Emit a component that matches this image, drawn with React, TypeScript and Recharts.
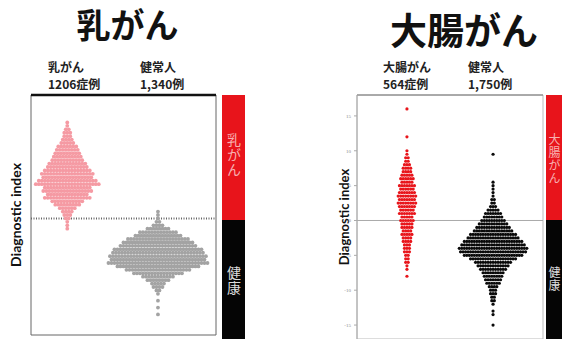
import React from 'react';
import { ScatterChart, Scatter, XAxis, YAxis, ReferenceLine, ReferenceArea } from 'recharts';

// swarm rows: [diagnostic index, number of dots in the row]
const breastCancerRows: [number, number][] = [
  [14.0, 1], [13.5, 1], [13.0, 2], [12.5, 3], [12.0, 3], [11.5, 4], [11.0, 5], [10.5, 7],
  [10.0, 8], [9.5, 9], [9.0, 10], [8.5, 11], [8.0, 13], [7.5, 14], [7.0, 16], [6.5, 18],
  [6.0, 17], [5.5, 20], [5.0, 22], [4.5, 16], [4.0, 17], [3.5, 14], [3.0, 16], [2.5, 11],
  [2.0, 9], [1.5, 6], [1.0, 4], [0.5, 3], [0.0, 2], [-0.5, 1], [-1.0, 1], [-1.5, 1],
];
const breastHealthyRows: [number, number][] = [
  [1.0, 1], [0.5, 1], [0.0, 1], [-0.5, 2], [-1.0, 4], [-1.5, 8], [-2.0, 13], [-2.5, 16],
  [-3.0, 21], [-3.5, 24], [-4.0, 26], [-4.5, 30], [-5.0, 31], [-5.5, 33], [-6.0, 32],
  [-6.5, 34], [-7.0, 28], [-7.5, 22], [-8.0, 17], [-8.5, 11], [-9.0, 8], [-9.5, 5],
  [-10.0, 4], [-10.5, 2], [-11.0, 1], [-12.0, 1], [-13.0, 1], [-14.0, 1],
];
const colonCancerRows: [number, number][] = [
  [16.0, 1], [12.0, 1], [10.0, 1], [9.5, 1], [9.0, 2], [8.5, 2], [8.0, 3], [7.5, 4],
  [7.0, 4], [6.5, 5], [6.0, 6], [5.5, 5], [5.0, 7], [4.5, 6], [4.0, 7], [3.5, 8],
  [3.0, 7], [2.5, 8], [2.0, 7], [1.5, 6], [1.0, 7], [0.5, 5], [0.0, 6], [-0.5, 5],
  [-1.0, 5], [-1.5, 4], [-2.0, 5], [-2.5, 4], [-3.0, 4], [-3.5, 3], [-4.0, 3], [-4.5, 3],
  [-5.0, 2], [-5.5, 2], [-6.0, 2], [-6.5, 1], [-7.0, 1], [-8.0, 1],
];
const colonHealthyRows: [number, number][] = [
  [9.5, 1], [5.5, 1], [5.0, 1], [4.5, 1], [4.0, 1], [3.5, 1], [3.0, 2], [2.5, 2],
  [2.0, 3], [1.5, 5], [1.0, 7], [0.5, 8], [0.0, 10], [-0.5, 12], [-1.0, 14], [-1.5, 16],
  [-2.0, 19], [-2.5, 21], [-3.0, 24], [-3.5, 26], [-4.0, 28], [-4.5, 27], [-5.0, 24],
  [-5.5, 19], [-6.0, 15], [-6.5, 13], [-7.0, 11], [-7.5, 9], [-8.0, 8], [-8.5, 7],
  [-9.0, 6], [-9.5, 4], [-10.0, 3], [-10.5, 3], [-11.0, 2], [-11.5, 2], [-12.0, 1],
  [-13.0, 1], [-13.5, 1], [-15.0, 1],
];

const colonTicks = [15, 10, 5, 0, -5, -10, -15];

const JP = "'Noto Sans CJK JP', sans-serif";

const toPoints = (rows: [number, number][], group: number) =>
  rows.map(([y, n]) => ({ x: group, y, n }));

// draws one row of the swarm centred on the group position
const swarm = (color: string, gap: number, r: number) => (props: any) => {
  const { cx, cy, payload } = props;
  const n = payload.n;
  const dots = [];
  for (let i = 0; i < n; i++) {
    dots.push(<circle key={i} cx={cx + (i - (n - 1) / 2) * gap} cy={cy} r={r} fill={color} />);
  }
  return <g>{dots}</g>;
};

const AxisTitle = ({ viewBox, x, size }: any) => {
  const cy = viewBox.y + viewBox.height / 2;
  return (
    <text x={x} y={cy} transform={`rotate(-90 ${x} ${cy})`} textAnchor="middle" dominantBaseline="central"
      fontFamily="Lato, sans-serif" fontWeight={700} fontSize={size} fill="#111">
      Diagnostic index
    </text>
  );
};

const SideBar = ({ left, width, top, label, size }: { left: number; width: number; top: string; label: string; size: number }) => (
  <>
    <div style={{ position: 'absolute', left, top: 95, width, height: 125, background: '#e8141b' }}>
      <div style={{ position: 'absolute', top: 38, left: 0, width, writingMode: 'vertical-rl', fontFamily: JP, fontSize: size, lineHeight: `${width}px`, letterSpacing: 1, color: '#f7b0b0' }}>{label}</div>
    </div>
    <div style={{ position: 'absolute', left, top: 220, width, height: 119, background: '#050505' }}>
      <div style={{ position: 'absolute', top: 46, left: 0, width, writingMode: 'vertical-rl', fontFamily: JP, fontSize: size, lineHeight: `${width}px`, letterSpacing: 1, color: '#dddddd' }}>{top}</div>
    </div>
  </>
);

const headStyle: React.CSSProperties = {
  position: 'absolute', fontFamily: JP, fontWeight: 700, fontSize: 12, lineHeight: '14px', color: '#222', whiteSpace: 'nowrap',
};

const Header = ({ left, lines }: { left: number; lines: string[] }) => (
  <>
    <div style={{ ...headStyle, left, top: 60 }}>{lines[0]}</div>
    <div style={{ ...headStyle, left, top: 77 }}>{lines[1]}</div>
  </>
);

export default function App() {
  return (
    <div style={{ position: 'absolute', left: 0, top: 0, width: 562, height: 339, overflow: 'hidden', background: '#fff' }}>
      <div style={{ position: 'absolute', left: 40, top: 6, width: 175, textAlign: 'center', fontFamily: JP, fontWeight: 700, fontSize: 34, lineHeight: '36px', color: '#111' }}>乳がん</div>
      <div style={{ position: 'absolute', left: 380, top: 9, width: 168, textAlign: 'center', fontFamily: JP, fontWeight: 700, fontSize: 37, lineHeight: '40px', color: '#111' }}>大腸がん</div>

      <Header left={48} lines={['乳がん', '1206症例']} />
      <Header left={140} lines={['健常人', '1,340例']} />
      <Header left={383} lines={['大腸がん', '564症例']} />
      <Header left={468} lines={['健常人', '1,750例']} />

      <div style={{ position: 'absolute', left: 0, top: 85 }}>
        <ScatterChart width={220} height={254} margin={{ top: 10, right: 4, bottom: 4, left: 0 }}>
          <XAxis type="number" dataKey="x" domain={[0.6, 2.64]} hide />
          <YAxis type="number" dataKey="y" domain={[-17, 18]} width={31} tick={false} axisLine={false} tickLine={false}
            label={<AxisTitle x={18} size={14} />} />
          <ReferenceArea x1={0.6} x2={2.64} y1={-17} y2={18} fill="none" stroke="#666" strokeWidth={1} />
          <ReferenceLine y={18} stroke="#111" strokeWidth={2.5} />
          <ReferenceLine y={0} stroke="#666" strokeWidth={2} strokeDasharray="1 1.5" />
          <Scatter data={toPoints(breastCancerRows, 1)} shape={swarm('#f59aa3', 3, 1.9)} isAnimationActive={false} />
          <Scatter data={toPoints(breastHealthyRows, 2)} shape={swarm('#a3a3a3', 3, 1.9)} isAnimationActive={false} />
        </ScatterChart>
      </div>
      <SideBar left={222} width={23} size={14} label="乳がん" top="健康" />

      <div style={{ position: 'absolute', left: 330, top: 85 }}>
        <ScatterChart width={232} height={254} margin={{ top: 10, right: 19, bottom: 0, left: 0 }}>
          <XAxis type="number" dataKey="x" domain={[0.42, 2.58]} hide />
          <YAxis type="number" dataKey="y" domain={[-17, 18]} width={27} ticks={colonTicks} interval={0}
            tick={{ fontSize: 5, fill: '#888' }} tickSize={3} tickMargin={3} stroke="#aaa"
            label={<AxisTitle x={4} size={13} />} />
          <ReferenceArea x1={0.42} x2={2.58} y1={-17} y2={18} fill="none" stroke="#bbb" strokeWidth={1} />
          <ReferenceLine y={18} stroke="#777" strokeWidth={1} />
          <ReferenceLine y={0} stroke="#aaa" strokeWidth={1} />
          <Scatter data={toPoints(colonCancerRows, 1)} shape={swarm('#e8151b', 2.5, 1.6)} isAnimationActive={false} />
          <Scatter data={toPoints(colonHealthyRows, 2)} shape={swarm('#0a0a0a', 2.5, 1.6)} isAnimationActive={false} />
        </ScatterChart>
      </div>
      <SideBar left={546} width={16} size={12} label="大腸がん" top="健康" />
    </div>
  );
}
